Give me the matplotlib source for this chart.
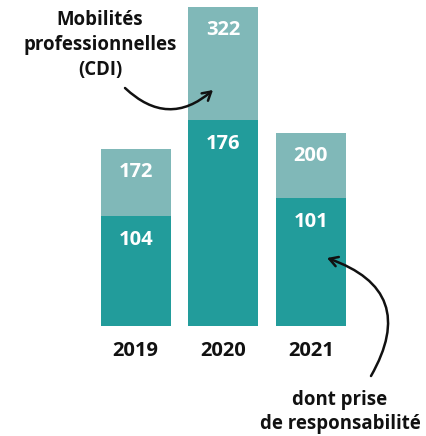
import matplotlib
matplotlib.use("Agg")
import matplotlib.pyplot as plt

years = ["2019", "2020", "2021"]
# segment heights as drawn in the picture
dark_heights = [172, 322, 200]
light_heights = [104, 176, 101]
# labels as printed in the picture
light_labels = ["172", "322", "200"]
dark_labels = ["104", "176", "101"]

DARK = "#229c9b"
LIGHT = "#80b8b8"
FONT = ["Open Sans", "DejaVu Sans"]
FS_VAL = 14.5
FS_TXT = 13.4

fig = plt.figure(figsize=(4.26, 4.36), dpi=100)
ax = fig.add_axes([0, (436 - 326) / 436, 1, 326 / 436])
x = list(range(len(years)))
ax.bar(x, dark_heights, width=0.8, color=DARK)
ax.bar(x, light_heights, width=0.8, bottom=dark_heights, color=LIGHT)
ax.set_xlim(-1.552, 3.317)
ax.set_ylim(0, 509.4)
ax.axis("off")

for i in x:
    tot = dark_heights[i] + light_heights[i]
    ax.annotate(light_labels[i], (i, tot), xytext=(0, -16), textcoords="offset points",
                ha="center", va="center", color="white", fontsize=FS_VAL,
                fontweight="bold", family=FONT)
    ax.annotate(dark_labels[i], (i, dark_heights[i]), xytext=(0, -17), textcoords="offset points",
                ha="center", va="center", color="white", fontsize=FS_VAL,
                fontweight="bold", family=FONT)
    ax.annotate(years[i], (i, 0), xytext=(0, -18), textcoords="offset points",
                ha="center", va="center", color="#111111", fontsize=FS_VAL,
                fontweight="bold", family=FONT, annotation_clip=False)

H = 436
fig.text(100 / 426, 1 - 45 / H, "Mobilités\nprofessionnelles\n(CDI)", ha="center", va="center",
         fontsize=FS_TXT, fontweight="bold", family=FONT, linespacing=1.35, color="#111111")
fig.text(340 / 426, 1 - 412 / H, "dont prise\nde responsabilité", ha="center", va="center",
         fontsize=FS_TXT, fontweight="bold", family=FONT, linespacing=1.3, color="#111111")

arrowprops1 = dict(arrowstyle="->,head_length=0.6,head_width=0.35", lw=1.8, color="#111111",
                   connectionstyle="arc3,rad=0.45", shrinkA=0, shrinkB=0)
ax.annotate("", xy=(213, H - 90), xycoords="figure pixels",
            xytext=(125, H - 88), textcoords="figure pixels", arrowprops=arrowprops1,
            annotation_clip=False)
arrowprops2 = dict(arrowstyle="->,head_length=0.6,head_width=0.35", lw=1.8, color="#111111",
                   connectionstyle="arc3,rad=0.6", shrinkA=0, shrinkB=0)
ax.annotate("", xy=(327, H - 258), xycoords="figure pixels",
            xytext=(371, H - 376), textcoords="figure pixels", arrowprops=arrowprops2,
            annotation_clip=False)

fig.savefig("out.png", dpi=100)
